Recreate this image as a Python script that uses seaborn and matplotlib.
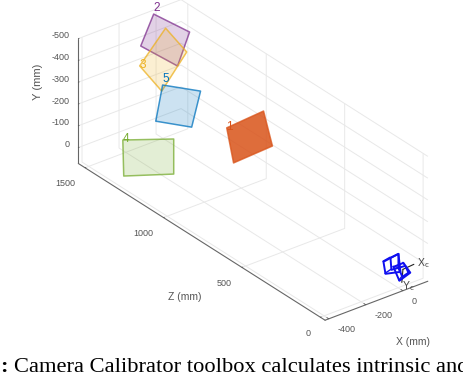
import seaborn as sns
import matplotlib
matplotlib.use("Agg")
import matplotlib.pyplot as plt
from mpl_toolkits.mplot3d.art3d import Poly3DCollection

sns.set_theme(style="white")
plt.rcParams["font.family"] = ["Liberation Sans", "DejaVu Sans"]
plt.rcParams["axes.unicode_minus"] = False

# -----------------------------
# Data, in mm
# -----------------------------
x_ticks = [-400, -200, 0]
y_ticks = [-500, -400, -300, -200, -100, 0]
z_ticks = [0, 500, 1000, 1500]
x_lim = (-420, 135)
y_lim = (73, -500)
z_lim = (-30, 1543)

board_names = ["1", "2", "3", "4", "5"]
board_colors = ["#D95319", "#7E2F8E", "#EDB120", "#77AC30", "#0072BD"]
board_alphas = [0.85, 0.22, 0.2, 0.2, 0.2]
board_label_va = ["center", "bottom", "center", "center", "bottom"]
board_x = [[-166, 33, 81, -129], [-52, 142, 77, -122], [-170, -30, 84, -51],
           [-473, -198, -198, -468], [-258, -53, -101, -295]]
board_y = [[-305, -318, -142, -132], [-516, -371, -236, -392], [-339, -467, -321, -185],
           [-211, -127, 34, -44], [-394, -300, -150, -240]]
board_z = [900, 1500, 1450, 1200, 1200]

cam_x = [[-82, -1, 10, -71], [-44, -1, -1, -39], [-28, 26, 63, 4], [-1, 36, 53, 20]]
cam_y = [[-75, -85, 1, -16], [-81, -85, -21, -24], [-34, -35, 22, 40], [-21, -18, 19, 27]]

# -----------------------------
# Plot
# -----------------------------
fig = plt.figure(figsize=(4.64, 3.74), dpi=100)
ax = fig.add_axes([30 / 464, -9 / 374, 434.4 / 464, 434.4 / 374], projection="3d", proj_type="ortho")
ax.set_xlim(*x_lim)
ax.set_ylim(*z_lim)
ax.set_zlim(*y_lim)
ax.set_box_aspect((130, 404, 143.5))
ax.view_init(elev=29.4, azim=232.3)

palette = sns.color_palette(board_colors)
for name, col, alpha, va, xs, ys, z in zip(board_names, palette, board_alphas, board_label_va,
                                           board_x, board_y, board_z):
    verts = [list(zip(xs, [z] * 4, ys))]
    ax.add_collection3d(Poly3DCollection(verts, facecolors=[(*col, alpha)], edgecolors=[(*col, 0.75)], linewidths=1.1))
    ax.text(xs[0], z, ys[0], name, color=col, fontsize=8.5, ha="left", va=va)

for xs, ys in zip(cam_x, cam_y):
    verts = [list(zip(xs, [0] * 4, ys))]
    ax.add_collection3d(Poly3DCollection(verts, facecolors=[(0, 0, 0, 0)], edgecolors="#1010F0", linewidths=1.4))
# links between the outer and inner frame of each camera
for i in [0, 2]:
    for j in range(4):
        ax.plot([cam_x[i][j], cam_x[i + 1][j]], [0, 0], [cam_y[i][j], cam_y[i + 1][j]], color="#1010F0", lw=1)

ax.plot([26, 85], [0, 0], [-3, -7], color="#222222", lw=0.8)
ax.plot([26, 20], [0, 0], [-3, 55], color="#222222", lw=0.8)
ax.text(101, 0, -6, "X$_{\\mathrm{c}}$", fontsize=7.5, color="#444444", ha="left", va="center")
ax.text(20, 0, 73, "Y$_{\\mathrm{c}}$", fontsize=7.5, color="#444444", ha="left", va="center")

ax.set_xticks(x_ticks)
ax.set_yticks(z_ticks)
ax.set_zticks(y_ticks)
ax.tick_params(labelsize=6.5, colors="#555555")
ax.tick_params(axis="x", pad=-2)
ax.tick_params(axis="y", pad=8)
ax.tick_params(axis="z", pad=-4)
plt.setp(ax.get_xticklabels(), ha="left", va="center")
plt.setp(ax.get_yticklabels(), ha="right", va="center")
plt.setp(ax.get_zticklabels(), ha="right", va="center")

for axis in [ax.xaxis, ax.yaxis, ax.zaxis]:
    axis.set_pane_color((1, 1, 1, 0))
    axis.line.set_color("#666666")
    axis.line.set_linewidth(0.8)
    axis._axinfo["grid"].update(color="#E8E8E8", linewidth=0.7)
    axis._axinfo["tick"].update(inward_factor=0.0, outward_factor=0.1, linewidth={True: 0.6, False: 0.5})

fig.text(185 / 464, 1 - 297 / 374, "Z (mm)", fontsize=7.5, color="#555555", ha="center", va="center")
fig.text(413 / 464, 1 - 342 / 374, "X (mm)", fontsize=7.5, color="#555555", ha="center", va="center")
fig.text(38 / 464, 1 - 82 / 374, "Y (mm)", fontsize=8, color="#555555", ha="center", va="center", rotation=90)

fig.text(0, 2 / 374, ":", family="Liberation Serif", fontweight="bold", fontsize=16, color="black", va="baseline")
fig.text(14 / 464, 2 / 374, "Camera Calibrator toolbox calculates intrinsic and",
         family="Liberation Serif", fontsize=16.2, color="black", va="baseline")

plt.savefig("out.png", dpi=100)
